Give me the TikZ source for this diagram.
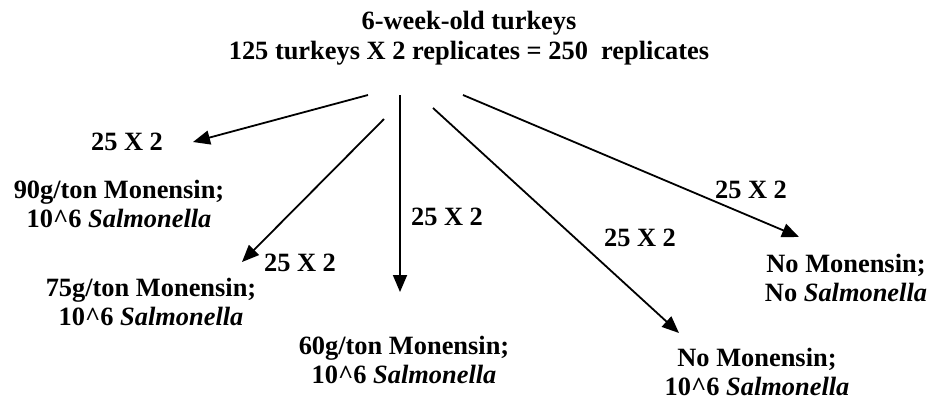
\documentclass[tikz,border=0pt]{standalone}
\usepackage{fontspec}
\setmainfont{Liberation Serif}
\usetikzlibrary{arrows.meta}
\tikzset{
  lbl/.style={font=\fontsize{26.4}{29.5}\selectfont\bfseries, align=center, inner sep=0pt},
  conn/.style={line width=1.8pt, -{Triangle[length=17pt,width=14pt]}}
}
\begin{document}
\begin{tikzpicture}[x=1pt,y=-1pt]
\useasboundingbox (0,0) rectangle (930,400);
\node[lbl] (title) at (469,38) {6-week-old turkeys\\125 turkeys X 2 replicates = 250\ \ replicates};
\node[lbl] (g90) at (119,204) {90g/ton Monensin;\\10\^{}6 \textit{Salmonella}};
\node[lbl] (g75) at (151,302) {75g/ton Monensin;\\10\^{}6 \textit{Salmonella}};
\node[lbl] (g60) at (404,360) {60g/ton Monensin;\\10\^{}6 \textit{Salmonella}};
\node[lbl] (g0s) at (757,372) {No Monensin;\\10\^{}6 \textit{Salmonella}};
\node[lbl] (g00) at (846,278) {No Monensin;\\No \textit{Salmonella}};
\node[lbl] (n1) at (127,142) {25 X 2};
\node[lbl] (n2) at (300,263) {25 X 2};
\node[lbl] (n3) at (447,217) {25 X 2};
\node[lbl] (n4) at (640,238) {25 X 2};
\node[lbl] (n5) at (751,190) {25 X 2};
\coordinate (s1) at (368,95);
\coordinate (s2) at (384,119);
\coordinate (s3) at (400,95);
\coordinate (s4) at (433,108);
\coordinate (s5) at (463,95);
\coordinate (e1) at (193,142);
\coordinate (e2) at (242,262);
\coordinate (e3) at (400,292);
\coordinate (e4) at (679,333);
\coordinate (e5) at (799,237);
\draw[conn] (s1) -- (e1);
\draw[conn] (s2) -- (e2);
\draw[conn] (s3) -- (e3);
\draw[conn] (s4) -- (e4);
\draw[conn] (s5) -- (e5);
\end{tikzpicture}
\end{document}
